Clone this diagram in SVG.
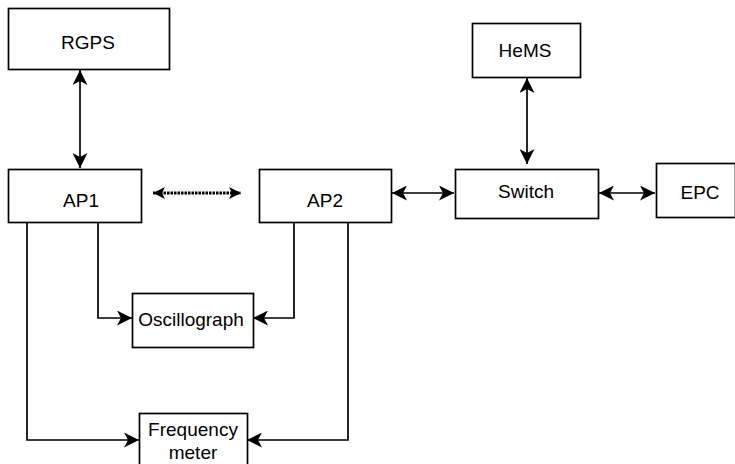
<svg xmlns="http://www.w3.org/2000/svg" width="735" height="464" viewBox="0 0 735 464">
<style>
.box{fill:#fff;stroke:#000;stroke-width:1.7}
.lbl{font-family:"Liberation Sans",Arial,sans-serif;font-size:19px;fill:#000;text-anchor:middle}
.c{fill:none;stroke:#000;stroke-width:1.7}
.d{fill:none;stroke:#000;stroke-width:3;stroke-dasharray:2.5 1}
</style>
<defs>
<marker id="ah" viewBox="0 0 15 15" refX="15" refY="7.5" markerWidth="15" markerHeight="15" markerUnits="userSpaceOnUse" orient="auto-start-reverse">
<path d="M0,0 L15,7.5 L0,15 L4,7.5 Z" fill="#000"/>
</marker>
<marker id="ahs" viewBox="0 0 12 12" refX="12" refY="6" markerWidth="12" markerHeight="12" markerUnits="userSpaceOnUse" orient="auto-start-reverse">
<path d="M0,0 L12,6 L0,12 L3,6 Z" fill="#000"/>
</marker>
</defs>
<g id="connectors">
<line class="c" x1="80" y1="70" x2="80" y2="168" marker-start="url(#ah)" marker-end="url(#ah)"/>
<line class="d" x1="153" y1="193" x2="241" y2="193" marker-start="url(#ahs)" marker-end="url(#ahs)"/>
<line class="c" x1="392" y1="193" x2="454" y2="193" marker-start="url(#ah)" marker-end="url(#ah)"/>
<line class="c" x1="599" y1="193" x2="655" y2="193" marker-start="url(#ah)" marker-end="url(#ah)"/>
<line class="c" x1="527" y1="78" x2="527" y2="164" marker-start="url(#ah)" marker-end="url(#ah)"/>
<polyline class="c" points="27,222 27,440 139,440" marker-end="url(#ah)"/>
<polyline class="c" points="98,222 98,318 132,318" marker-end="url(#ah)"/>
<polyline class="c" points="294,222 294,318 253,318" marker-end="url(#ah)"/>
<polyline class="c" points="348,222 348,440 247,440" marker-end="url(#ah)"/>
</g>
<g id="rgps"><rect class="box" x="8.5" y="8.5" width="161" height="61"/><text class="lbl" x="88" y="49">RGPS</text></g>
<g id="ap1"><rect class="box" x="8.5" y="169.5" width="133" height="53"/><text class="lbl" x="81" y="207">AP1</text></g>
<g id="ap2"><rect class="box" x="259.5" y="169.5" width="132" height="53"/><text class="lbl" x="325" y="207">AP2</text></g>
<g id="switch"><rect class="box" x="455.5" y="169.5" width="143" height="49"/><text class="lbl" x="526" y="198">Switch</text></g>
<g id="hems"><rect class="box" x="472.5" y="23.5" width="108" height="54"/><text class="lbl" x="525" y="57">HeMS</text></g>
<g id="epc"><rect class="box" x="656.5" y="163.5" width="79" height="54"/><text class="lbl" x="700" y="199">EPC</text></g>
<g id="oscillograph"><rect class="box" x="132.5" y="293.5" width="121" height="54"/><text class="lbl" x="191" y="326">Oscillograph</text></g>
<g id="frequency-meter"><rect class="box" x="139.5" y="413.5" width="108" height="60"/><text class="lbl" x="193" y="436">Frequency</text><text class="lbl" x="193" y="459">meter</text></g>
</svg>
